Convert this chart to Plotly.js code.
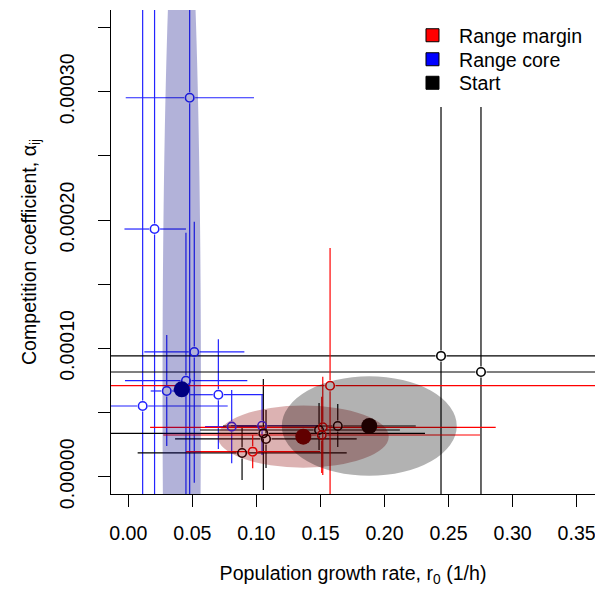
<!DOCTYPE html>
<html><head><meta charset="utf-8">
<script src="https://cdn.plot.ly/plotly-3.0.1.min.js"></script>
<style>html,body{margin:0;padding:0;background:#fff}</style>
</head><body><div id="chart" style="width:595px;height:590px"></div>
<script>
// ---------- DATA ----------
// Range margin (red) replicate lines: r0, alpha and their intervals
const marginR0      = [0.1575, 0.0971, 0.1518, 0.1510];
const marginR0Lo    = [-0.0500, 0.0450, 0.0170, 0.0273];
const marginR0Hi    = [0.5000, 0.1497, 0.2868, 0.2746];
const marginAlpha   = [0.0000709, 0.0000195, 0.0000385, 0.0000325];
const marginAlphaLo = [-0.000100, 0.0000065, 0.0000013, 0.0000029];
const marginAlphaHi = [0.0001782, 0.0000325, 0.0000779, 0.0000623];

// Range core (blue)
const coreR0      = [0.0479, 0.0205, 0.0112, 0.0515, 0.0450, 0.0300, 0.0703, 0.0807, 0.1044];
const coreR0Lo    = [-0.0020, -0.0030, -0.0300, 0.0125, -0.0026, 0.0175, 0.0482, 0.0599, 0.0802];
const coreR0Hi    = [0.0981, 0.0450, 0.0776, 0.0906, 0.0929, 0.0482, 0.1054, 0.1044, 0.1481];
const coreAlpha   = [0.0002953, 0.0001930, 0.0000551, 0.0000972, 0.0000748, 0.0000668, 0.0000639, 0.0000390, 0.0000397];
const coreAlphaLo = [-0.000100, -0.000100, -0.000100, -0.0000047, -0.000100, 0.0000239, 0.0000216, 0.0000104, 0.0000169];
const coreAlphaHi = [0.000600, 0.000600, 0.000600, 0.0001987, 0.0001901, 0.0001104, 0.0001071, 0.0000676, 0.0000642];

// Start (black)
const startR0      = [0.2441, 0.2753, 0.0888, 0.1054, 0.1075, 0.1635, 0.1489];
const startR0Lo    = [-0.0500, -0.0500, 0.0073, -0.0300, 0.0365, 0.0739, 0.0560];
const startR0Hi    = [0.5000, 0.5000, 0.1705, 0.2316, 0.1783, 0.2244, 0.2120];
const startAlpha   = [0.0000941, 0.0000816, 0.0000185, 0.0000338, 0.0000294, 0.0000395, 0.0000364];
const startAlphaLo = [-0.000100, -0.000100, -0.0000026, -0.0000104, 0.0000068, 0.0000231, 0.0000208];
const startAlphaHi = [0.0002881, 0.0002881, 0.0000390, 0.0000761, 0.0000520, 0.0000566, 0.0000574];

// Group means and ellipse half-widths: [Range margin, Range core, Start]
const groupNames       = ['Range margin', 'Range core', 'Start'];
const meanR0           = [0.1366, 0.0417, 0.1881];
const meanAlpha        = [0.0000312, 0.0000681, 0.0000395];
const ellipseR0Half    = [0.0667, 0.0150, 0.0683];
const ellipseAlphaHalf = [0.0000242, 0.000426, 0.0000388];

// Axis ticks
const xTickVals = [0, 0.05, 0.10, 0.15, 0.20, 0.25, 0.30, 0.35];
const xTickText = ['0.00', '0.05', '0.10', '0.15', '0.20', '0.25', '0.30', '0.35'];
const yTickVals = [0, 0.00010, 0.00020, 0.00030];
const yTickText = ['0.00000', '0.00010', '0.00020', '0.00030'];
const yMinorStep = 0.00005;

// ---------- STYLE / LAYOUT ----------
const FONT = {family: 'Liberation Sans, Arial, Helvetica, sans-serif', size: 19.6, color: '#000'};
const W = 595, H = 590, M = {l: 111, r: 0, t: 10, b: 96};
const xRange = [-0.01351, 0.36431];
const yRange = [-1.348e-5, 3.6367e-4];
const pxX = (W - M.l - M.r) / (xRange[1] - xRange[0]);
const pxY = (H - M.t - M.b) / (yRange[1] - yRange[0]);
const GAP = 5.5; // px gap between point and its interval line

const lineCol  = ['rgb(255,0,0)', 'rgb(35,35,255)', 'rgb(0,0,0)'];
const meanCol  = ['rgb(139,0,0)', 'rgb(0,0,128)', 'rgb(0,0,0)'];
const ellCol   = ['rgba(139,0,0,0.3)', 'rgba(0,0,128,0.3)', 'rgba(0,0,0,0.3)'];
const legCol   = ['#ff0000', '#0000ff', '#000000'];
const legY     = [0.9876, 0.938, 0.8894];

function barSegments(x, xlo, xhi, y, ylo, yhi) {
  const xs = [], ys = [];
  const gx = GAP / pxX, gy = GAP / pxY;
  for (let i = 0; i < x.length; i++) {
    if (xlo[i] < x[i] - gx) { xs.push(xlo[i], x[i] - gx, null); ys.push(y[i], y[i], null); }
    if (xhi[i] > x[i] + gx) { xs.push(x[i] + gx, xhi[i], null); ys.push(y[i], y[i], null); }
    if (ylo[i] < y[i] - gy) { xs.push(x[i], x[i], null); ys.push(ylo[i], y[i] - gy, null); }
    if (yhi[i] > y[i] + gy) { xs.push(x[i], x[i], null); ys.push(y[i] + gy, yhi[i], null); }
  }
  return {xs, ys};
}

const groups = [
  {x: coreR0, xlo: coreR0Lo, xhi: coreR0Hi, y: coreAlpha, ylo: coreAlphaLo, yhi: coreAlphaHi, g: 1},
  {x: startR0, xlo: startR0Lo, xhi: startR0Hi, y: startAlpha, ylo: startAlphaLo, yhi: startAlphaHi, g: 2},
  {x: marginR0, xlo: marginR0Lo, xhi: marginR0Hi, y: marginAlpha, ylo: marginAlphaLo, yhi: marginAlphaHi, g: 0}
];

const traces = [];
groups.forEach(G => {
  const s = barSegments(G.x, G.xlo, G.xhi, G.y, G.ylo, G.yhi);
  traces.push({type: 'scatter', mode: 'lines', x: s.xs, y: s.ys,
    line: {color: lineCol[G.g], width: 1.2}, hoverinfo: 'skip', showlegend: false});
});
groups.forEach(G => {
  traces.push({type: 'scatter', mode: 'markers', x: G.x, y: G.y,
    marker: {symbol: 'circle-open', size: 8.5, color: lineCol[G.g], line: {width: 1.6, color: lineCol[G.g]}},
    showlegend: false, hoverinfo: 'x+y'});
});
[1, 0, 2].forEach(g => {
  traces.push({type: 'scatter', mode: 'markers', x: [meanR0[g]], y: [meanAlpha[g]],
    marker: {symbol: 'circle', size: 16, color: meanCol[g], line: {width: 0}},
    showlegend: false, hoverinfo: 'x+y'});
});
const legendIds = ['legend', 'legend2', 'legend3'];
[0, 1, 2].forEach(g => {
  traces.push({type: 'scatter', mode: 'markers', x: [null], y: [null], name: groupNames[g],
    legend: legendIds[g],
    marker: {symbol: 'square', size: 13, color: legCol[g], line: {width: 1, color: '#000'}},
    showlegend: true});
});

const shapes = [1, 0, 2].map(g => ({
  type: 'circle', xref: 'x', yref: 'y', layer: 'above',
  x0: meanR0[g] - ellipseR0Half[g], x1: meanR0[g] + ellipseR0Half[g],
  y0: meanAlpha[g] - ellipseAlphaHalf[g], y1: meanAlpha[g] + ellipseAlphaHalf[g],
  fillcolor: ellCol[g], line: {width: 0}
}));

const axisCommon = {
  showline: true, linecolor: '#000', linewidth: 1, mirror: false,
  ticks: 'outside', ticklen: 12, tickwidth: 1, tickcolor: '#000',
  showgrid: false, zeroline: false, tickfont: FONT, fixedrange: true,
  ticklabeloverflow: 'allow'
};

function legendBox(i) {
  return {x: 0.6095, xanchor: 'left', y: legY[i], yanchor: 'top', font: FONT,
    itemwidth: 43, bgcolor: 'rgba(0,0,0,0)', borderwidth: 0, tracegroupgap: 0};
}

const layout = {
  width: W, height: H, margin: M,
  paper_bgcolor: '#fff', plot_bgcolor: '#fff',
  font: FONT,
  showlegend: true,
  xaxis: Object.assign({}, axisCommon, {
    range: xRange, tickmode: 'array', tickvals: xTickVals, ticktext: xTickText,
    ticklabelstandoff: 9,
    title: {text: 'Population growth rate, r<sub>0</sub> (1/h)', font: FONT, standoff: 23}
  }),
  yaxis: Object.assign({}, axisCommon, {
    range: yRange, tickmode: 'array', tickvals: yTickVals, ticktext: yTickText, tickangle: -90,
    ticklabelstandoff: 16,
    minor: {tickmode: 'linear', tick0: 0, dtick: yMinorStep, ticks: 'outside', ticklen: 12,
            tickwidth: 1, tickcolor: '#000', showgrid: false},
    title: {text: 'Competition coefficient, α<sub>ij</sub>', font: FONT, standoff: 14}
  }),
  legend: legendBox(0),
  legend2: legendBox(1),
  legend3: legendBox(2),
  shapes: shapes
};

Plotly.newPlot('chart', traces, layout, {displayModeBar: false, staticPlot: true});
</script>
</body></html>
